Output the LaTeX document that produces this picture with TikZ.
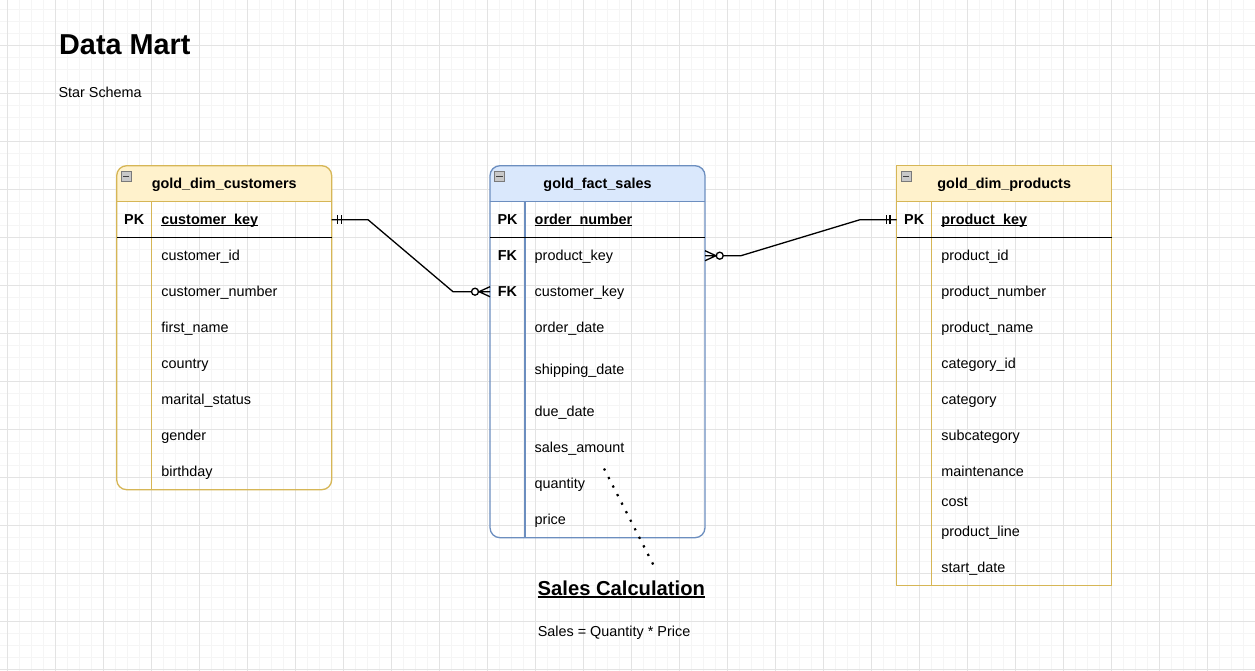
\documentclass[tikz,border=0pt]{standalone}
\usepackage{fontspec}
\setmainfont{Liberation Sans}
\usetikzlibrary{calc}
\definecolor{ylfill}{HTML}{FFF2CC}
\definecolor{ylline}{HTML}{D6B656}
\definecolor{blfill}{HTML}{DAE8FC}
\definecolor{blline}{HTML}{6C8EBF}
\definecolor{gridmin}{HTML}{F5F5F5}
\definecolor{gridmaj}{HTML}{E3E3E3}
\definecolor{iconfill}{HTML}{C8C8C8}
\definecolor{iconline}{HTML}{7A7A7A}
\newsavebox\ulbox
\newcommand\ulin[3]{\sbox\ulbox{#3}\rlap{\rule[-#1]{\wd\ulbox}{#2}}\usebox\ulbox}
\newcommand\fsbody{\fontsize{14.4}{17}\selectfont}
\newcommand\fstitle{\fontsize{28.8}{34}\selectfont\bfseries}
\newcommand\fscalc{\fontsize{20.2}{24}\selectfont\bfseries}
\tikzset{
  field/.style={anchor=base west, inner sep=0pt, font=\fsbody},
  keylbl/.style={anchor=base, inner sep=0pt, font=\fsbody\bfseries},
  hdr/.style={anchor=base, inner sep=0pt, font=\fsbody\bfseries},
  tablebox/.style={anchor=north west, inner sep=0pt, outer sep=0pt, line width=1.3pt},
  sepline/.style={line width=1.1pt},
  pkline/.style={black, line width=1.4pt},
  conn/.style={black, line width=1.3pt},
  dotline/.style={black, line width=2.2pt, dash pattern=on 2.2pt off 7.4pt},
  icon/.style={fill=iconfill, draw=iconline, line width=0.8pt}
}
\begin{document}
\begin{tikzpicture}[x=1pt,y=-1pt]
\useasboundingbox (0,0) rectangle (1255,671);
\fill[white] (0,0) rectangle (1255,671);
% grid
\foreach \gx in {0,...,105} \draw[gridmin, line width=0.8pt] ({-4.7+12*\gx},0) -- ({-4.7+12*\gx},671);
\foreach \gy in {0,...,56} \draw[gridmin, line width=0.8pt] (0,{-2.7+12*\gy}) -- (1255,{-2.7+12*\gy});
\foreach \gx in {0,...,26} \draw[gridmaj, line width=0.9pt] ({7.3+48*\gx},0) -- ({7.3+48*\gx},671);
\foreach \gy in {0,...,14} \draw[gridmaj, line width=0.9pt] (0,{-2.7+48*\gy}) -- (1255,{-2.7+48*\gy});

% titles
\node[anchor=base west, inner sep=0pt, font=\fstitle] (title) at (59,55) {Data Mart};
\node[anchor=base west, inner sep=0pt, font=\fsbody] (subtitle) at (58.3,97.3) {Star Schema};

% ===== gold_dim_customers =====
\fill[ylfill, rounded corners=10pt] (116.7,165.7) rectangle (331.7,201.7);
\fill[ylfill] (116.7,185) rectangle (331.7,201.7);
\node[tablebox, draw=ylline, rounded corners=10pt, minimum width=215pt, minimum height=324pt] (cust) at (116.7,165.7) {};
\draw[ylline, sepline] (116.7,201.7) -- (331.7,201.7);
\draw[ylline, sepline] (151.7,201.7) -- (151.7,489.7);
\draw[pkline] (116.7,237.7) -- (331.7,237.7);
\draw[icon] (121.2,171.2) rectangle (131.2,181.2);
\draw[black!75, line width=1pt] (123,176.2) -- (129.4,176.2);
\node[hdr] (custhdr) at (224.2,188.3) {gold\_dim\_customers};
\node[keylbl] (custpk) at (134.2,224.3) {PK};
\node[field] (custkey) at (161.2,224.3) {\bfseries\ulin{1.7pt}{1.1pt}{customer\_key}};
\foreach \t [count=\i] in {customer\_id,customer\_number,first\_name,country,marital\_status,gender,birthday}
  \node[field] (custf\i) at (161.2,{224.3+36*\i}) {\t};

% ===== gold_fact_sales =====
\fill[blfill, rounded corners=10pt] (490,165.7) rectangle (705,201.7);
\fill[blfill] (490,185) rectangle (705,201.7);
\node[tablebox, draw=blline, rounded corners=10pt, minimum width=215pt, minimum height=372pt] (fact) at (490,165.7) {};
\draw[blline, sepline] (490,201.7) -- (705,201.7);
\draw[blline, sepline] (525,201.7) -- (525,537.7);
\draw[pkline] (490,237.7) -- (705,237.7);
\draw[icon] (494.5,171.2) rectangle (504.5,181.2);
\draw[black!75, line width=1pt] (496.3,176.2) -- (502.7,176.2);
\node[hdr] (facthdr) at (597.5,188.3) {gold\_fact\_sales};
\node[keylbl] (factpk) at (507.5,224.3) {PK};
\node[field] (factkey) at (534.5,224.3) {\bfseries\ulin{1.7pt}{1.1pt}{order\_number}};
\node[keylbl] (factfk1) at (507.5,260.3) {FK};
\node[keylbl] (factfk2) at (507.5,296.3) {FK};
\foreach \t/\c [count=\i] in {product\_key/255.7,customer\_key/291.7,order\_date/327.7,shipping\_date/369.7,due\_date/411.7,sales\_amount/447.7,quantity/483.7,price/519.7}
  \node[field] (factf\i) at (534.5,{\c+4.6}) {\t};

% ===== gold_dim_products =====
\fill[ylfill] (896.7,165.7) rectangle (1111.7,201.7);
\node[tablebox, draw=ylline, minimum width=215pt, minimum height=420pt] (prod) at (896.7,165.7) {};
\draw[ylline, sepline] (896.7,201.7) -- (1111.7,201.7);
\draw[ylline, sepline] (931.7,201.7) -- (931.7,585.7);
\draw[pkline] (896.7,237.7) -- (1111.7,237.7);
\draw[icon] (901.2,171.2) rectangle (911.2,181.2);
\draw[black!75, line width=1pt] (903,176.2) -- (909.4,176.2);
\node[hdr] (prodhdr) at (1004.2,188.3) {gold\_dim\_products};
\node[keylbl] (prodpk) at (914.2,224.3) {PK};
\node[field] (prodkey) at (941.2,224.3) {\bfseries\ulin{1.7pt}{1.1pt}{product\_key}};
\foreach \t/\c [count=\i] in {product\_id/255.7,product\_number/291.7,product\_name/327.7,category\_id/363.7,category/399.7,subcategory/435.7,maintenance/471.7,cost/501.7,product\_line/531.7,start\_date/567.7}
  \node[field] (prodf\i) at (941.2,{\c+4.6}) {\t};

% ===== connector anchors =====
\coordinate (custPK) at (cust.east |- 0,219.7);
\coordinate (factCK) at (fact.west |- 0,291.7);
\coordinate (factPD) at (fact.east |- 0,255.7);
\coordinate (prodPK) at (prod.west |- 0,219.7);

% customers -> fact (one to zero-or-many)
\draw[conn] (custPK) -- ($(custPK)+(36.3,0)$) -- ($(factCK)+(-37,0)$) -- ($(factCK)+(-18.5,0)$);
\draw[conn] ($(custPK)+(5.5,-4.5)$) -- ++(0,9) ($(custPK)+(9.5,-4.5)$) -- ++(0,9);
\draw[conn, fill=white] ($(factCK)+(-15,0)$) circle[radius=3.5pt];
\draw[conn] ($(factCK)+(0,-5)$) -- ($(factCK)+(-11,0)$) -- ($(factCK)+(0,5)$) ($(factCK)+(-11,0)$) -- (factCK);

% fact -> products
\draw[conn] ($(factPD)+(18.2,0)$) -- ($(factPD)+(36,0)$) -- ($(prodPK)+(-36.7,0)$) -- (prodPK);
\draw[conn] ($(prodPK)+(-6.7,-4.5)$) -- ++(0,9) ($(prodPK)+(-10,-4.5)$) -- ++(0,9);
\draw[conn, fill=white] ($(factPD)+(14.7,0)$) circle[radius=3.5pt];
\draw[conn] ($(factPD)+(0,-5)$) -- ($(factPD)+(11,0)$) -- ($(factPD)+(0,5)$) ($(factPD)+(11,0)$) -- (factPD);

% sales calculation note
\coordinate (dotA) at (604,468.5);
\coordinate (dotB) at (654.3,566.7);
\draw[dotline] (dotA) -- (dotB);
\node[anchor=base west, inner sep=0pt, font=\fscalc] (calc) at (537.5,595.5) {\ulin{2.2pt}{1.8pt}{Sales Calculation}};
\node[anchor=base west, inner sep=0pt, font=\fsbody] (formula) at (537.6,636.7) {Sales = Quantity * Price};
\end{tikzpicture}
\end{document}
